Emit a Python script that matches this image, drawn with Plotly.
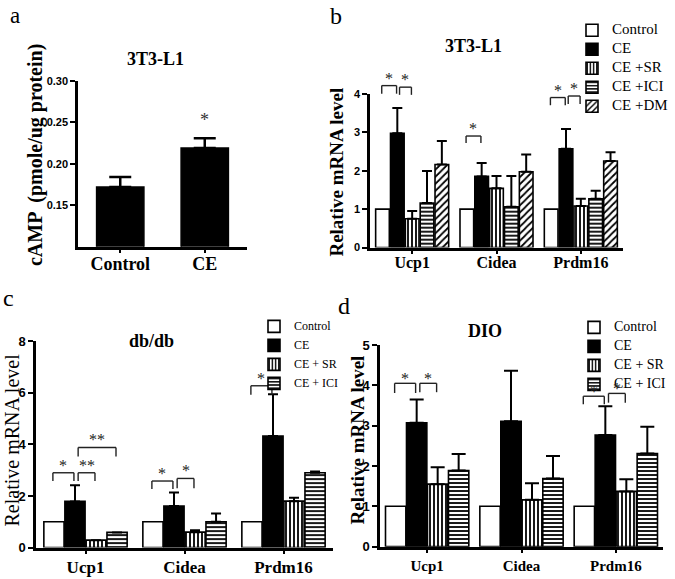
import plotly.graph_objects as go

# ---------------- data ----------------
a_categories = ["Control", "CE"]
a_mean = [0.172, 0.219]
a_sem = [0.012, 0.012]
a_star_level = [None, 0.238]

genes = ["Ucp1", "Cidea", "Prdm16"]

b_names = ["Control", "CE", "CE +SR", "CE +ICI", "CE +DM"]
b_control = [1.0, 1.0, 1.0]
b_ce = [2.97, 1.85, 2.57]
b_sr = [0.75, 1.54, 1.08]
b_ici = [1.16, 1.06, 1.27]
b_dm = [2.16, 1.97, 2.25]
b_control_err = [None, None, None]
b_ce_err = [0.66, 0.35, 0.51]
b_sr_err = [0.20, 0.32, 0.19]
b_ici_err = [0.83, 0.80, 0.21]
b_dm_err = [0.61, 0.45, 0.23]
# (gene index, from series, to series, bracket top, leg bottom, label)
b_brackets = [(0, 0, 1, 4.21, 4.0, "*"), (0, 1, 2, 4.17, 3.97, "*"),
              (1, 0, 1, 2.90, 2.72, "*"),
              (2, 0, 1, 3.90, 3.70, "*"), (2, 1, 2, 3.94, 3.73, "*")]

c_names = ["Control", "CE", "CE + SR", "CE + ICI"]
c_control = [1.0, 1.0, 1.0]
c_ce = [1.79, 1.61, 4.32]
c_sr = [0.29, 0.60, 1.80]
c_ici = [0.59, 1.00, 2.90]
c_control_err = [None, None, None]
c_ce_err = [0.63, 0.53, 1.62]
c_sr_err = [None, 0.07, 0.13]
c_ici_err = [None, 0.32, 0.05]
c_brackets = [(0, 0, 1, 2.90, 2.58, "*"), (0, 1, 2, 2.90, 2.58, "**"),
              (0, 1, 3, 3.88, 3.53, "**"),
              (1, 0, 1, 2.58, 2.27, "*"), (1, 1, 2, 2.68, 2.30, "*"),
              (2, 0, 1, 6.27, 5.92, "*")]

d_names = ["Control", "CE", "CE + SR", "CE + ICI"]
d_control = [1.0, 1.0, 1.0]
d_ce = [3.07, 3.11, 2.77]
d_sr = [1.55, 1.16, 1.37]
d_ici = [1.89, 1.69, 2.31]
d_control_err = [None, None, None]
d_ce_err = [0.58, 1.25, 0.71]
d_sr_err = [0.42, 0.41, 0.30]
d_ici_err = [0.41, 0.56, 0.66]
d_brackets = [(0, 0, 1, 4.05, 3.81, "*"), (0, 1, 2, 4.05, 3.83, "*"),
              (2, 0, 1, 3.73, 3.53, "*"), (2, 1, 2, 3.80, 3.57, "*")]

# ---------------- styles ----------------
SERIF = "Liberation Serif"
SANS = "Liberation Sans"
W, H = 675, 579


def pattern(shape, size=4, sol=0.45, fg="black"):
    return dict(shape=shape, fgcolor=fg, bgcolor="white", size=size, solidity=sol, fillmode="replace")


fills = {
    "Control": dict(color="white"),
    "CE": dict(color="black"),
    "SR": dict(color="white", pattern=pattern("|", 4, 0.45)),
    "ICI": dict(color="white", pattern=pattern("-", 4, 0.45)),
    "DM": dict(color="white", pattern=pattern("/", 5, 0.35)),
}

fig = go.Figure()


def px_dom_x(p0, p1):
    return [p0 / W, p1 / W]


def px_dom_y(top, bottom):
    return [1 - bottom / H, 1 - top / H]


panels = {
    "a": dict(xa="x", ya="y", xd=px_dom_x(78, 247), yd=px_dom_y(76, 246), yr=[0.10, 0.30]),
    "b": dict(xa="x2", ya="y2", xd=px_dom_x(370, 623), yd=px_dom_y(89, 247), yr=[0, 4]),
    "c": dict(xa="x3", ya="y3", xd=px_dom_x(36, 333), yd=px_dom_y(343, 555), yr=[0, 8]),
    "d": dict(xa="x4", ya="y4", xd=px_dom_x(380, 663), yd=px_dom_y(347, 554), yr=[0, 5]),
}

# panel a
fig.add_trace(go.Bar(
    x=list(range(len(a_categories))), y=a_mean, width=0.56,
    marker=dict(color="black", line=dict(color="black", width=1.5)),
    error_y=dict(type="data", array=a_sem, arrayminus=[0] * len(a_sem), symmetric=False,
                 color="black", thickness=2.5, width=11),
    xaxis="x", yaxis="y", showlegend=False, hoverinfo="skip"))


def add_group(key, series, gap, ggap, legend, ethick, ewidth, lsize):
    p = panels[key]
    n = len(series)
    slot = (1 - gap) / n
    width = slot * (1 - ggap)
    centers = []
    for i, (name, vals, errs, style) in enumerate(series):
        off = -(1 - gap) / 2 + (i + 0.5) * slot
        xs = [g + off for g in range(len(genes))]
        centers.append(xs)
        has_err = any(e is not None for e in errs)
        fig.add_trace(go.Bar(
            x=xs, y=vals, width=width,
            name=f'<span style="font-size:{lsize}px">{name}</span>',
            marker=dict(line=dict(color="black", width=1.6), **fills[style]),
            error_y=dict(type="data", array=errs, arrayminus=[0] * len(errs), symmetric=False,
                         color="black", thickness=ethick, width=ewidth, visible=has_err),
            xaxis=p["xa"], yaxis=p["ya"], legend=legend, hoverinfo="skip"))
    return centers, slot


def to_dom(v, rng):
    return (v - rng[0]) / (rng[1] - rng[0])


shapes = []
annotations = []


def add_brackets(key, brackets, centers, slot, star_size, star_shift=-3):
    p = panels[key]
    yref = p["ya"] + " domain"
    for g, i, j, top, leg, label in brackets:
        x0 = centers[i][g] - 0.05 * slot
        x1 = centers[j][g] - 0.05 * slot
        if i > 0:
            x0 = centers[i][g] + 0.15 * slot
        t = to_dom(top, p["yr"])
        l = to_dom(leg, p["yr"])
        for (xa0, ya0, xa1, ya1) in [(x0, l, x0, t), (x0, t, x1, t), (x1, t, x1, l)]:
            shapes.append(dict(type="line", xref=p["xa"], yref=yref, x0=xa0, y0=ya0, x1=xa1, y1=ya1,
                               line=dict(color="#222", width=1.4)))
        annotations.append(dict(text=label, x=(x0 + x1) / 2, y=t, xref=p["xa"], yref=yref,
                                yanchor="bottom", yshift=star_shift, showarrow=False,
                                font=dict(family=SERIF, size=star_size, color="#222")))


cb, sb = add_group("b", [
    (b_names[0], b_control, b_control_err, "Control"),
    (b_names[1], b_ce, b_ce_err, "CE"),
    (b_names[2], b_sr, b_sr_err, "SR"),
    (b_names[3], b_ici, b_ici_err, "ICI"),
    (b_names[4], b_dm, b_dm_err, "DM"),
], 0.12, 0.08, "legend", 2, 5, 15)
add_brackets("b", b_brackets, cb, sb, 16)

cc, sc = add_group("c", [
    (c_names[0], c_control, c_control_err, "Control"),
    (c_names[1], c_ce, c_ce_err, "CE"),
    (c_names[2], c_sr, c_sr_err, "SR"),
    (c_names[3], c_ici, c_ici_err, "ICI"),
], 0.15, 0.04, "legend2", 2, 5, 12)
add_brackets("c", c_brackets, cc, sc, 16)

cd, sd = add_group("d", [
    (d_names[0], d_control, d_control_err, "Control"),
    (d_names[1], d_ce, d_ce_err, "CE"),
    (d_names[2], d_sr, d_sr_err, "SR"),
    (d_names[3], d_ici, d_ici_err, "ICI"),
], 0.11, 0.03, "legend3", 2, 7, 14)
add_brackets("d", d_brackets, cd, sd, 16, star_shift=-6)

# star over CE in panel a
for k, lvl in enumerate(a_star_level):
    if lvl is not None:
        annotations.append(dict(text="*", x=k, y=to_dom(lvl, panels["a"]["yr"]), xref="x",
                                yref="y domain", yanchor="bottom", showarrow=False,
                                font=dict(family=SERIF, size=18, color="#333")))


def paper_ann(text, px, py, size, bold=False, angle=0, xanchor="center", yanchor="middle"):
    annotations.append(dict(text=f"<b>{text}</b>" if bold else text, x=px / W, y=1 - py / H,
                            xref="paper", yref="paper", showarrow=False, textangle=angle,
                            xanchor=xanchor, yanchor=yanchor,
                            font=dict(family=SERIF, size=size, color="black")))


# panel letters
paper_ann("a", 8, 9, 23, xanchor="left")
paper_ann("b", 328, 9, 24, xanchor="left")
paper_ann("c", 1, 299, 24, xanchor="left")
paper_ann("d", 336, 307, 24, xanchor="left")
# titles
paper_ann("3T3-L1", 155, 53, 18, bold=True)
paper_ann("3T3-L1", 473, 40, 18, bold=True)
paper_ann("db/db", 151, 343, 18, bold=True)
paper_ann("DIO", 485, 333, 18, bold=True)
# y-axis titles
paper_ann("cAMP  (pmole/ug protein)", 35, 152, 20, bold=True, angle=-90)
paper_ann("Relative mRNA level", 337, 170, 19, bold=True, angle=-90)
paper_ann("Relative mRNA level", 12, 445, 20, bold=False, angle=-90)
paper_ann("Relative mRNA level", 357, 445, 19, bold=True, angle=-90)


def yaxis(p, tickvals, ticktext, size):
    return dict(domain=p["yd"], range=p["yr"], anchor=p["xa"], tickvals=tickvals, ticktext=ticktext,
                showline=True, linewidth=2.5, linecolor="black", ticks="outside", ticklen=5,
                tickwidth=2, tickcolor="black", showgrid=False, zeroline=False, fixedrange=True,
                tickfont=dict(family=SANS, size=size, color="black", weight="bold"))


def xaxis(p, cats, size, standoff):
    return dict(domain=p["xd"], range=[-0.5, len(cats) - 0.5], anchor=p["ya"],
                tickvals=list(range(len(cats))), ticktext=cats, ticklabelstandoff=standoff,
                showline=True, linewidth=2.5, linecolor="black", ticks="outside", ticklen=4,
                tickwidth=2, tickcolor="black", showgrid=False, zeroline=False, fixedrange=True,
                tickfont=dict(family=SERIF, size=size, color="black", weight="bold"))


pa, pb, pc, pd = panels["a"], panels["b"], panels["c"], panels["d"]
a_ticks = [0.15, 0.20, 0.25, 0.30]

legend_common = dict(xanchor="left", yanchor="top", bgcolor="rgba(0,0,0,0)",
                     tracegroupgap=0, itemclick=False, itemdoubleclick=False)

fig.update_layout(
    width=W, height=H, autosize=False,
    margin=dict(l=0, r=0, t=0, b=0),
    paper_bgcolor="white", plot_bgcolor="white",
    barmode="overlay",
    xaxis=xaxis(pa, a_categories, 18, -5),
    yaxis=yaxis(pa, a_ticks, [f"{v:.2f}" for v in a_ticks], 11),
    xaxis2=xaxis(pb, genes, 16, -6),
    yaxis2=yaxis(pb, list(range(5)), [str(v) for v in range(5)], 11),
    xaxis3=xaxis(pc, genes, 17, -2),
    yaxis3=yaxis(pc, list(range(0, 9, 2)), [str(v) for v in range(0, 9, 2)], 13),
    xaxis4=xaxis(pd, genes, 15, 0),
    yaxis4=yaxis(pd, list(range(6)), [str(v) for v in range(6)], 13),
    legend=dict(x=572 / W, y=1 - 9 / H, font=dict(family=SERIF, size=10, color="black"), **legend_common),
    legend2=dict(x=254 / W, y=1 - 313 / H, font=dict(family=SERIF, size=10, color="black"), **legend_common),
    legend3=dict(x=574 / W, y=1 - 314 / H, font=dict(family=SERIF, size=10, color="black"), **legend_common),
    shapes=shapes,
    annotations=annotations,
)

fig.write_html("out.html", config={"displayModeBar": False},
               post_script="document.body.style.margin='0';document.body.style.overflow='hidden';")
